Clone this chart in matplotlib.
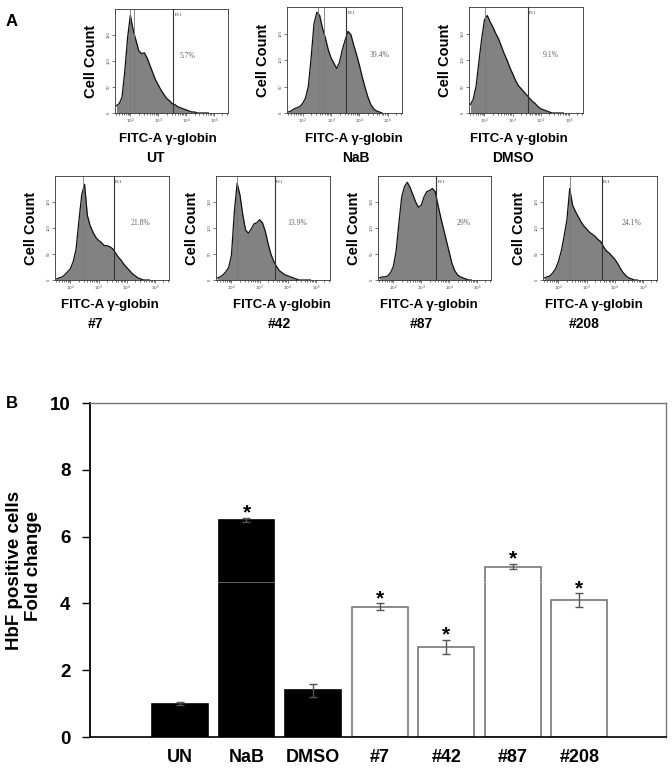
"""Flow cytometry histograms (A) and HbF fold-change bar chart (B)."""

import matplotlib
matplotlib.use("Agg")
import matplotlib.pyplot as plt
import numpy as np

plt.rcParams["font.family"] = ["Liberation Sans", "DejaVu Sans"]

W, H = 672, 771

# Panel A: histogram heights (% of axis height) per log10(FITC-A) bin, 1.5 .. 4.8
log_bins = np.round(np.arange(1.5, 4.85, 0.1), 2)
ut_counts = [7, 9, 15, 40, 72, 94, 80, 70, 60, 57, 58, 53, 46, 39, 32, 27, 22,
             18, 14, 12, 9, 8, 6, 5, 4, 3, 2, 1, 1, 0, 0, 0, 0, 0]
nab_counts = [1, 2, 4, 5, 6, 9, 14, 25, 52, 84, 95, 92, 80, 71, 60, 52, 47,
              42, 48, 60, 69, 77, 74, 64, 55, 45, 34, 24, 15, 8, 4, 2, 1, 0]
dmso_counts = [8, 13, 25, 48, 70, 88, 92, 86, 81, 75, 70, 63, 56, 50, 43, 37, 31,
               26, 23, 20, 17, 14, 11, 9, 6, 4, 3, 2, 1, 0, 0, 0, 0, 0]
c7_counts = [1, 2, 3, 5, 8, 11, 18, 30, 57, 82, 92, 62, 52, 46, 41, 38, 36,
             33, 33, 32, 30, 26, 22, 19, 15, 12, 9, 6, 4, 2, 1, 0, 0, 0]
c42_counts = [2, 3, 5, 8, 12, 24, 65, 93, 82, 63, 48, 45, 49, 54, 55, 58, 55,
              47, 35, 25, 18, 13, 9, 7, 5, 4, 3, 2, 1, 0, 0, 0, 0, 0]
c87_counts = [2, 3, 3, 4, 7, 13, 28, 55, 80, 90, 94, 89, 82, 75, 70, 72, 80,
              85, 86, 88, 85, 72, 60, 49, 38, 27, 16, 9, 5, 3, 2, 1, 0, 0]
c208_counts = [2, 3, 4, 7, 11, 18, 28, 42, 58, 88, 72, 66, 61, 56, 52, 49, 46,
               44, 42, 39, 37, 32, 28, 26, 23, 20, 16, 11, 7, 4, 2, 1, 0, 0]

hist_names = ["UT", "NaB", "DMSO", "#7", "#42", "#87", "#208"]
hist_counts = [ut_counts, nab_counts, dmso_counts, c7_counts,
               c42_counts, c87_counts, c208_counts]
gate_pct = ["5.7%", "39.4%", "9.1%", "21.8%", "13.9%", "29%", "24.1%"]
gate_log = 3.53
marker_lines = [[2.0, 2.12], [2.53, 2.76], [2.02], [2.45], [2.21], [], [2.42]]

# Panel B
groups = ["UN", "NaB", "DMSO", "#7", "#42", "#87", "#208"]
fold_change = [1.0, 6.5, 1.4, 3.9, 2.7, 5.1, 4.1]
fold_err = [0.05, 0.07, 0.2, 0.1, 0.2, 0.08, 0.2]
significant = [False, True, False, True, True, True, True]
filled = [True, True, True, False, False, False, False]

# layout (pixels): histogram boxes, text centres
hist_boxes = [(115, 9, 228, 113), (287, 7, 402, 113), (469, 7, 583, 113),
              (55, 176, 169, 280), (216, 176, 330, 280),
              (378, 176, 491, 280), (543, 176, 657, 280)]
fitc_x = [168, 354, 519, 110, 282, 429, 594]
name_x = [155, 356, 513, 96, 279, 421, 584]
pct_x = [4.06, 4.7, 4.35, 4.49, 4.33, 4.53, 4.58]

fig = plt.figure(figsize=(W / 100, H / 100), dpi=100)


def px_axes(x0, y0, x1, y1):
    return fig.add_axes([x0 / W, 1 - y1 / H, (x1 - x0) / W, (y1 - y0) / H])


def fig_text(x, y, s, **kw):
    fig.text(x / W, 1 - y / H, s, **kw)


for i, name in enumerate(hist_names):
    x0, y0, x1, y1 = hist_boxes[i]
    ax = px_axes(x0, y0, x1, y1)
    counts = hist_counts[i]
    ax.fill_between(log_bins, counts, color="#828282", lw=0)
    ax.plot(log_bins, counts, color="#111111", lw=0.9)
    ax.axvline(gate_log, color="#333333", lw=0.8)
    for m in marker_lines[i]:
        ax.axvline(m, color="#777777", lw=0.6)
    ax.text(gate_log + 0.05, 96, "P11", fontsize=3.5, family="Liberation Serif",
            va="top", color="#333333")
    ax.text(pct_x[i], 55, gate_pct[i], fontsize=5.5, color="#666666",
            family="Liberation Serif", ha="center", va="center")
    ax.set_xlim(1.45, 5.5)
    ax.set_ylim(0, 100)
    ax.set_xticks([2, 3, 4, 5])
    ax.set_xticklabels([r"$10^2$", r"$10^3$", r"$10^4$", r"$10^5$"])
    minor = [np.log10(k) + d for d in (1, 2, 3, 4, 5) for k in range(2, 10)]
    ax.set_xticks([m for m in minor if 1.45 < m < 5.5], minor=True)
    ax.set_yticks([0, 25, 50, 75])
    ax.set_yticklabels(["0", "50", "100", "150"], rotation=90, va="center")
    ax.tick_params(labelsize=3, colors="#444444", length=2, width=0.5, pad=1)
    ax.tick_params(which="minor", length=1.2, width=0.4)
    for sp in ax.spines.values():
        sp.set_linewidth(0.6)
        sp.set_color("#333333")

    yc = (y0 + y1) / 2
    fig_text(x0 - 24, yc, "Cell Count", rotation=90, ha="center", va="center",
             fontsize=10.5, fontweight="bold")
    row_off = 0 if i < 3 else 166
    fig_text(fitc_x[i], 139 + row_off, "FITC-A γ-globin", ha="center",
             va="center", fontsize=9.5, fontweight="bold")
    fig_text(name_x[i], 158 + row_off, name, ha="center", va="center",
             fontsize=10, fontweight="bold")

fig_text(12, 21, "A", ha="center", va="center", fontsize=12, fontweight="bold")
fig_text(12, 404, "B", ha="center", va="center", fontsize=12, fontweight="bold")

# Panel B bar chart
ax = px_axes(90, 403, 666, 737)
x = np.arange(len(groups))
face = ["black" if f else "white" for f in filled]
edge = ["black" if f else "#777777" for f in filled]
ax.bar(x, fold_change, width=0.84, color=face, edgecolor=edge, linewidth=1.2)
ax.errorbar(x, fold_change, yerr=fold_err, fmt="none", ecolor="#555555",
            elinewidth=1, capsize=3, capthick=1)
for xi, v, e, s in zip(x, fold_change, fold_err, significant):
    if s:
        ax.text(xi, v + e - 0.02, "*", ha="center", va="baseline",
                fontsize=15, fontweight="bold")
# faint scan line visible across the NaB bar
ax.axhline(4.64, color="white", lw=0.6, alpha=0.45)

ax.set_xlim(-1.35, 7.3)
ax.set_ylim(0, 10)
ax.set_yticks(range(0, 11, 2))
ax.set_xticks(x)
ax.set_xticklabels(groups, fontsize=13, fontweight="bold")
for lab in ax.get_yticklabels():
    lab.set_fontsize(13.5)
    lab.set_fontweight("bold")
ax.tick_params(axis="y", direction="out", length=6, width=1, pad=8)
ax.tick_params(axis="x", length=0, pad=9)
ax.spines["left"].set_linewidth(1.3)
ax.spines["bottom"].set_linewidth(1.2)
for side in ("top", "right"):
    ax.spines[side].set_color("#777777")
    ax.spines[side].set_linewidth(1.0)

fig_text(15, 570, "HbF positive cells", rotation=90, ha="center",
         va="center", fontsize=13.5, fontweight="bold")
fig_text(34, 566, "Fold change", rotation=90, ha="center",
         va="center", fontsize=13.5, fontweight="bold")

fig.savefig("out.png", dpi=100)
plt.close(fig)
